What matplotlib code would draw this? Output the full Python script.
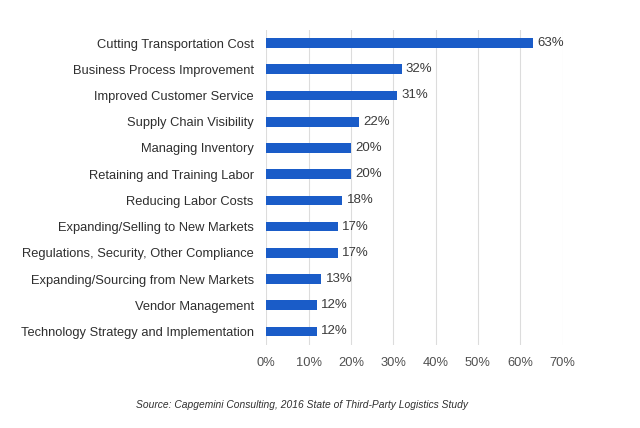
import matplotlib
matplotlib.use("Agg")
import matplotlib.pyplot as plt
from matplotlib.ticker import FuncFormatter

plt.rcParams['font.family'] = ['Liberation Sans', 'DejaVu Sans']

categories = [
    "Cutting Transportation Cost",
    "Business Process Improvement",
    "Improved Customer Service",
    "Supply Chain Visibility",
    "Managing Inventory",
    "Retaining and Training Labor",
    "Reducing Labor Costs",
    "Expanding/Selling to New Markets",
    "Regulations, Security, Other Compliance",
    "Expanding/Sourcing from New Markets",
    "Vendor Management",
    "Technology Strategy and Implementation",
]
values = [63, 32, 31, 22, 20, 20, 18, 17, 17, 13, 12, 12]
ticks = [0, 10, 20, 30, 40, 50, 60, 70]

fig = plt.figure(figsize=(6.4, 4.28), dpi=100)
ax = fig.add_axes([0.416, 0.195, 0.463, 0.735])

y = list(range(len(categories)))
ax.barh(y, values, height=0.37, color="#1a5cc8", zorder=3)
# value labels right of each bar
for yi, v in zip(y, values):
    ax.text(v + 1.0, yi, f"{v}%", va="center", ha="left", fontsize=9.5,
            color="#3a3a3a")

ax.set_yticks(y)
ax.set_yticklabels(categories, fontsize=9.3, color="#2e2e2e")
ax.set_ylim(len(categories) - 0.5, -0.5)
ax.set_xlim(0, 70)
ax.set_xticks(ticks)
ax.xaxis.set_major_formatter(FuncFormatter(lambda v, p: f"{int(v)}%"))
ax.tick_params(axis="x", labelsize=9.3, labelcolor="#505050", length=0, pad=9)
ax.tick_params(axis="y", length=0, pad=9)
ax.grid(axis="x", color="#dcdcdc", linewidth=0.8, zorder=0)
for s in ax.spines.values():
    s.set_visible(False)

fig.text(0.472, 0.053, "Source: Capgemini Consulting, 2016 State of Third-Party Logistics Study",
         ha="center", va="center", fontsize=7.4, style="italic", color="#303030")

plt.savefig("out.png", dpi=100)
